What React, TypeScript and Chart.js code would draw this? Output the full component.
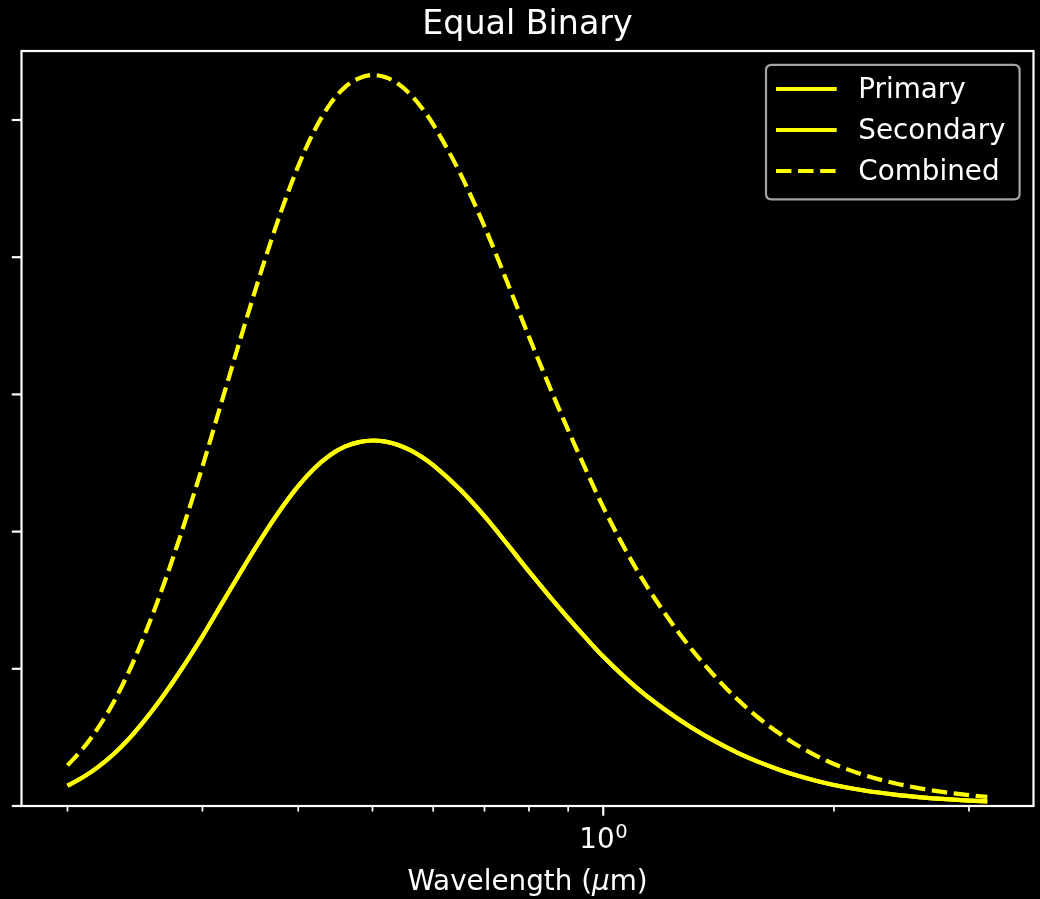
import { useEffect, useRef } from "react";
import { Chart, registerables } from "chart.js";

Chart.register(...registerables);

// Wavelength grid (µm) and flux of each component, in arbitrary units
const wavelengths = [
  0.2, 0.21, 0.22, 0.23, 0.24, 0.25, 0.26, 0.27, 0.28, 0.29, 0.3,
  0.32, 0.34, 0.36, 0.38, 0.4, 0.42, 0.44, 0.46, 0.48, 0.5, 0.52, 0.54, 0.56, 0.58, 0.6,
  0.65, 0.7, 0.75, 0.8, 0.85, 0.9, 0.95, 1.0,
  1.1, 1.2, 1.3, 1.4, 1.5, 1.6, 1.7, 1.8, 1.9, 2.0,
  2.2, 2.4, 2.6, 2.8, 3.0, 3.17,
];
const primaryFlux = [
  0.148, 0.213, 0.291, 0.381, 0.484, 0.598, 0.719, 0.845, 0.975, 1.106, 1.237,
  1.501, 1.747, 1.971, 2.167, 2.332, 2.462, 2.557, 2.619, 2.652, 2.664, 2.656, 2.632, 2.594, 2.544, 2.484,
  2.308, 2.112, 1.907, 1.71, 1.532, 1.37, 1.223, 1.089,
  0.872, 0.707, 0.576, 0.471, 0.386, 0.318, 0.263, 0.218, 0.182, 0.153,
  0.111, 0.083, 0.0635, 0.0495, 0.0395, 0.033,
];
const secondaryFlux = [
  0.148, 0.213, 0.291, 0.381, 0.484, 0.598, 0.719, 0.845, 0.975, 1.106, 1.237,
  1.501, 1.747, 1.971, 2.167, 2.332, 2.462, 2.557, 2.619, 2.652, 2.664, 2.656, 2.632, 2.594, 2.544, 2.484,
  2.308, 2.112, 1.907, 1.71, 1.532, 1.37, 1.223, 1.089,
  0.872, 0.707, 0.576, 0.471, 0.386, 0.318, 0.263, 0.218, 0.182, 0.153,
  0.111, 0.083, 0.0635, 0.0495, 0.0395, 0.033,
];
const combinedFlux = [
  0.296, 0.426, 0.582, 0.762, 0.968, 1.196, 1.438, 1.69, 1.95, 2.212, 2.474,
  3.002, 3.494, 3.942, 4.334, 4.664, 4.924, 5.114, 5.238, 5.304, 5.328, 5.312, 5.264, 5.188, 5.088, 4.968,
  4.616, 4.224, 3.814, 3.42, 3.064, 2.74, 2.446, 2.178,
  1.744, 1.414, 1.152, 0.942, 0.772, 0.636, 0.526, 0.436, 0.364, 0.306,
  0.222, 0.166, 0.127, 0.099, 0.079, 0.066,
];

const seriesLabels = ["Primary", "Secondary", "Combined"];
const titleText = "Equal Binary";
const xLabelParts = ["Wavelength (", "\u03bc", "m)"];

const yTickValues = [0, 1, 2, 3, 4, 5];
const xMajorTicks = [1];
const xMinorTicks = [0.2, 0.3, 0.4, 0.5, 0.6, 0.7, 0.8, 0.9, 2, 3];

const LINE_COLOR = "#ffff00";
const FONT = '"DejaVu Sans", "Noto Sans", sans-serif';
const DASH = [15.4, 6.7];
const LINE_W = 4.2;

const toPoints = (ys: number[]) => wavelengths.map((x, i) => ({ x, y: ys[i] }));

const decorations = {
  id: "decorations",
  beforeDraw(chart: any) {
    const { ctx, width, height } = chart;
    ctx.save();
    ctx.fillStyle = "#000000";
    ctx.fillRect(0, 0, width, height);
    ctx.restore();
  },
  afterDatasetsDraw(chart: any) {
    const { ctx, chartArea } = chart;
    const xs = chart.scales.x;
    const ys = chart.scales.y;
    const { left, right, top, bottom } = chartArea;
    ctx.save();
    ctx.strokeStyle = "#ffffff";
    ctx.fillStyle = "#ffffff";

    // frame
    ctx.lineWidth = 2.2;
    ctx.strokeRect(left, top, right - left, bottom - top);

    // y ticks (no labels)
    for (const v of yTickValues) {
      const py = ys.getPixelForValue(v);
      ctx.beginPath();
      ctx.moveTo(left - 9.7, py);
      ctx.lineTo(left, py);
      ctx.stroke();
    }
    // x major ticks
    for (const v of xMajorTicks) {
      const px = xs.getPixelForValue(v);
      ctx.beginPath();
      ctx.moveTo(px, bottom);
      ctx.lineTo(px, bottom + 9.7);
      ctx.stroke();
    }
    // x minor ticks
    ctx.lineWidth = 1.7;
    for (const v of xMinorTicks) {
      const px = xs.getPixelForValue(v);
      ctx.beginPath();
      ctx.moveTo(px, bottom);
      ctx.lineTo(px, bottom + 5.6);
      ctx.stroke();
    }

    // x major tick label: 10^0
    const base = "10";
    const exp = "0";
    ctx.textBaseline = "alphabetic";
    ctx.textAlign = "left";
    ctx.font = `27.8px ${FONT}`;
    const wBase = ctx.measureText(base).width;
    ctx.font = `19.5px ${FONT}`;
    const wExp = ctx.measureText(exp).width;
    for (const v of xMajorTicks) {
      const px = xs.getPixelForValue(v);
      const startX = px - (wBase + wExp) / 2;
      ctx.font = `27.8px ${FONT}`;
      ctx.fillText(base, startX, bottom + 42.3);
      ctx.font = `19.5px ${FONT}`;
      ctx.fillText(exp, startX + wBase + 0.5, bottom + 32.3);
    }

    // x axis label
    const cx = (left + right) / 2;
    const fonts = [`27.8px ${FONT}`, `oblique 27.8px ${FONT}`, `27.8px ${FONT}`];
    let total = 0;
    const widths = xLabelParts.map((t, i) => {
      ctx.font = fonts[i];
      const w = ctx.measureText(t).width;
      total += w;
      return w;
    });
    let x0 = cx - total / 2;
    xLabelParts.forEach((t, i) => {
      ctx.font = fonts[i];
      ctx.fillText(t, x0, 890);
      x0 += widths[i];
    });

    // title
    ctx.font = `33.3px ${FONT}`;
    ctx.textAlign = "center";
    ctx.fillText(titleText, cx, top - 16.7);
    ctx.restore();
  },
  afterDraw(chart: any) {
    const { ctx, chartArea } = chart;
    const boxRight = chartArea.right - 13.9;
    const boxTop = chartArea.top + 13.9;
    const boxLeft = 766;
    const boxBottom = 199.3;
    const r = 5.6;
    ctx.save();
    ctx.beginPath();
    ctx.moveTo(boxLeft + r, boxTop);
    ctx.lineTo(boxRight - r, boxTop);
    ctx.quadraticCurveTo(boxRight, boxTop, boxRight, boxTop + r);
    ctx.lineTo(boxRight, boxBottom - r);
    ctx.quadraticCurveTo(boxRight, boxBottom, boxRight - r, boxBottom);
    ctx.lineTo(boxLeft + r, boxBottom);
    ctx.quadraticCurveTo(boxLeft, boxBottom, boxLeft, boxBottom - r);
    ctx.lineTo(boxLeft, boxTop + r);
    ctx.quadraticCurveTo(boxLeft, boxTop, boxLeft + r, boxTop);
    ctx.closePath();
    ctx.fillStyle = "rgba(0,0,0,0.8)";
    ctx.fill();
    ctx.strokeStyle = "#a3a3a3";
    ctx.lineWidth = 2.2;
    ctx.stroke();

    const rows = [89, 130, 171];
    chart.data.datasets.forEach((ds: any, i: number) => {
      const y = rows[i];
      ctx.beginPath();
      ctx.strokeStyle = ds.borderColor;
      ctx.lineWidth = ds.borderWidth;
      ctx.setLineDash(ds.borderDash || []);
      ctx.moveTo(776, y);
      ctx.lineTo(836.7, y);
      ctx.stroke();
      ctx.setLineDash([]);
      ctx.fillStyle = "#ffffff";
      ctx.font = `27.8px ${FONT}`;
      ctx.textAlign = "left";
      ctx.textBaseline = "alphabetic";
      ctx.fillText(ds.label, 858.3, y + 8.7);
    });
    ctx.restore();
  },
};

export default function App() {
  const canvasRef = useRef<HTMLCanvasElement | null>(null);

  useEffect(() => {
    const canvas = canvasRef.current;
    if (!canvas) return;
    const lineStyle = {
      borderColor: LINE_COLOR,
      borderWidth: LINE_W,
      pointRadius: 0,
      fill: false,
      cubicInterpolationMode: "monotone",
    };
    const chart = new Chart(canvas, {
      type: "line",
      data: {
        datasets: [
          { label: seriesLabels[0], data: toPoints(primaryFlux), ...lineStyle },
          { label: seriesLabels[1], data: toPoints(secondaryFlux), ...lineStyle },
          { label: seriesLabels[2], data: toPoints(combinedFlux), ...lineStyle, borderDash: DASH },
        ],
      },
      options: {
        responsive: false,
        animation: false,
        devicePixelRatio: 1,
        layout: { padding: { left: 21.5, top: 51, right: 6.5, bottom: 93 } },
        scales: {
          x: { type: "logarithmic", min: 0.1742, max: 3.642, display: false },
          y: { type: "linear", min: 0, max: 5.503, display: false },
        },
        plugins: {
          legend: { display: false },
          title: { display: false },
          tooltip: { enabled: false },
        },
        events: [],
      },
      plugins: [decorations],
    } as any);
    return () => chart.destroy();
  }, []);

  return (
    <div style={{ position: "fixed", left: 0, top: 0, width: 1040, height: 899, background: "#000" }}>
      <canvas ref={canvasRef} width={1040} height={899} style={{ display: "block", width: 1040, height: 899 }} />
    </div>
  );
}
